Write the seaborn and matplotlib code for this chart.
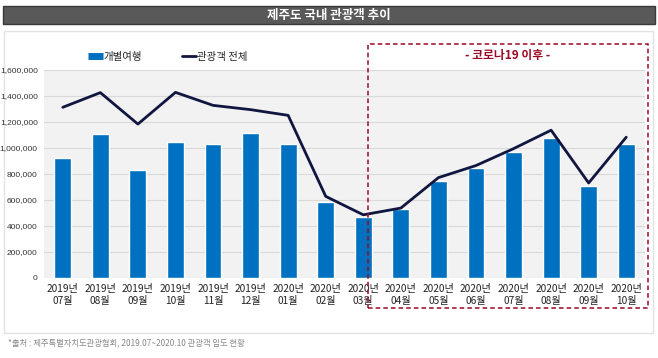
import matplotlib
matplotlib.use("Agg")
import matplotlib.pyplot as plt
from matplotlib.patches import Rectangle
from matplotlib.lines import Line2D
import seaborn as sns
import numpy as np
import pandas as pd

months = ["2019년\n07월", "2019년\n08월", "2019년\n09월", "2019년\n10월", "2019년\n11월", "2019년\n12월",
          "2020년\n01월", "2020년\n02월", "2020년\n03월", "2020년\n04월", "2020년\n05월", "2020년\n06월",
          "2020년\n07월", "2020년\n08월", "2020년\n09월", "2020년\n10월"]
individual = [924000, 1110000, 834000, 1045000, 1029000, 1112000, 1029000, 581000,
              466000, 533000, 749000, 847000, 968000, 1079000, 705000, 1029000]
total = [1313000, 1426000, 1184000, 1428000, 1328000, 1295000, 1251000, 628000,
         486000, 538000, 772000, 865000, 995000, 1137000, 731000, 1083000]
yticks = [0, 200000, 400000, 600000, 800000, 1000000, 1200000, 1400000, 1600000]

sns.set_theme(style="white")
plt.rcParams['font.family'] = ['Noto Sans CJK KR', 'DejaVu Sans']

W, H = 658, 358
fig = plt.figure(figsize=(W / 100, H / 100), dpi=100)

def fx(px):
    return px / W

def fy(py):
    return 1 - py / H

# Title bar
fig.patches.append(Rectangle((fx(3), fy(24)), fx(652), 18 / H, transform=fig.transFigure,
                             facecolor="#595959", edgecolor="#3a3a3a", lw=1, zorder=-2))
fig.text(fx(329), fy(15.5), "제주도 국내 관광객 추이", color="white", fontsize=9,
         fontweight="bold", ha="center", va="center")

# Outer white box
fig.patches.append(Rectangle((fx(4), fy(333)), fx(649), 302 / H, transform=fig.transFigure,
                             facecolor="white", edgecolor="#e3e3e3", lw=1, zorder=-2))

ax = fig.add_axes([fx(44), fy(278), fx(601), 208 / H])
ax.set_zorder(2)
ax.set_facecolor("#f2f2f2")

df = pd.DataFrame({"month": months, "individual": individual, "total": total,
                   "pos": np.arange(len(months))})

sns.barplot(data=df, x="month", y="individual", color="#0070C0", width=0.45,
            saturation=1, ax=ax, zorder=3)
sns.lineplot(data=df, x="pos", y="total", color="#10163f", lw=2, ax=ax, zorder=4)

ax.set_xlim(-0.5, len(months) - 0.5)
ax.set_ylim(0, 1600000)
ax.set_yticks(yticks)
ax.set_yticklabels([f"{v:,}" for v in yticks], fontsize=6, color="#333333",
                   family=["Liberation Sans", "DejaVu Sans"])
ax.set_xticks(np.arange(len(months)))
ax.set_xticklabels(months, fontsize=7.3, color="#222222", linespacing=1.35)
ax.tick_params(axis="both", length=0)
ax.tick_params(axis="x", pad=4)
ax.tick_params(axis="y", pad=4.5)
ax.yaxis.grid(True, color="#d9d9d9", lw=0.8, zorder=0)
ax.set_axisbelow(True)
ax.set_xlabel("")
ax.set_ylabel("")
for s in ax.spines.values():
    s.set_visible(False)

# Legend
handles = [Line2D([0], [0], color="#0070C0", lw=5, solid_capstyle="butt"),
           Line2D([0], [0], color="#10163f", lw=2)]
fig.legend(handles, ["개별여행", "관광객 전체"], loc="center", bbox_to_anchor=(fx(168), fy(57)),
           ncol=2, frameon=False, fontsize=7.5, handlelength=1.4, handletextpad=0.1,
           columnspacing=3.8)

# Dashed Covid box
fig.patches.append(Rectangle((fx(368), fy(308)), fx(280), 264 / H, transform=fig.transFigure,
                             facecolor="none", edgecolor="#9a0a24", lw=1.1, ls=(0, (3, 2)), zorder=10))
fig.text(fx(508), fy(56), "- 코로나19 이후 -", color="#9a0a24", fontsize=8.5,
         fontweight="bold", ha="center", va="center")

# Footer
fig.text(fx(8), fy(343), "*출처 : 제주특별자치도관광협회, 2019.07~2020.10 관광객 입도 현황",
         color="#888888", fontsize=6, ha="left", va="center")

fig.savefig("out.png", dpi=100, facecolor="white")
